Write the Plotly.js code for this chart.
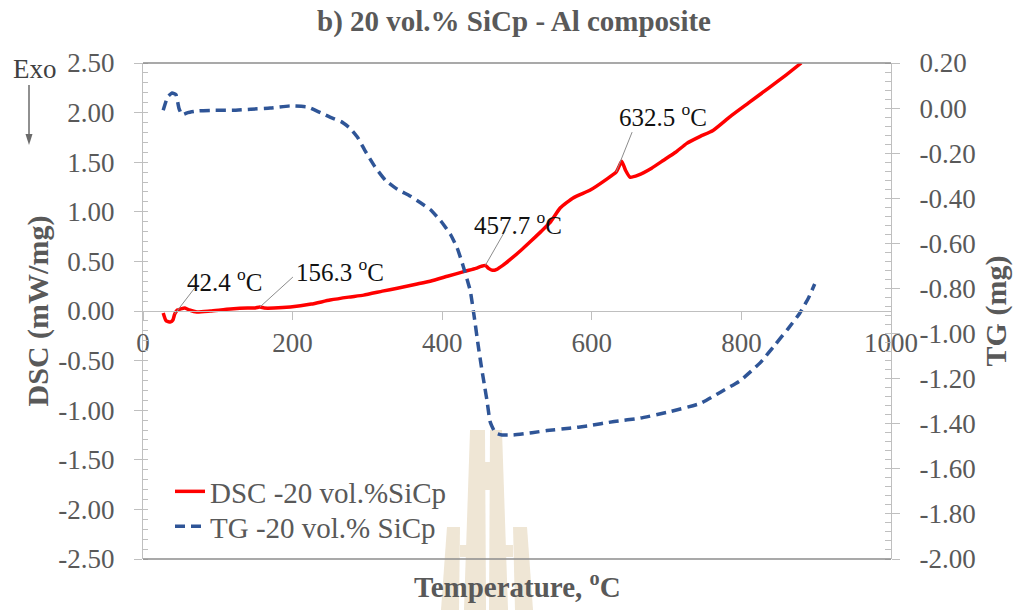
<!DOCTYPE html>
<html>
<head>
<meta charset="utf-8">
<script src="https://cdn.plot.ly/plotly-3.0.1.min.js"></script>
<style>
  html, body { margin: 0; padding: 0; background: #ffffff; }
  #chart { width: 1028px; height: 610px; }
</style>
</head>
<body>
<div id="chart"></div>
<script>
// DSC run: temperature (°C) and heat flow (mW/mg)
const dscTemp = [27, 31, 37, 40, 42.4, 46, 50, 56, 62, 72, 90, 117, 140, 150, 156.3, 162, 175, 197, 225, 250, 275, 295, 320, 340, 365, 384, 407, 430, 445, 452, 457.7, 462, 467, 473, 481, 491, 505, 518, 532, 544, 558, 575, 598, 620, 632.5, 636, 640, 645, 651, 662, 680, 696, 712, 727, 745, 762, 785, 810, 835, 860, 880];
const dscFlow = [-0.02, -0.10, -0.11, -0.09, -0.03, 0.01, 0.02, 0.03, 0.01, -0.01, 0.00, 0.02, 0.03, 0.03, 0.04, 0.03, 0.03, 0.04, 0.07, 0.11, 0.14, 0.16, 0.20, 0.23, 0.27, 0.30, 0.35, 0.40, 0.43, 0.45, 0.46, 0.43, 0.41, 0.42, 0.46, 0.52, 0.61, 0.70, 0.80, 0.89, 1.04, 1.14, 1.22, 1.33, 1.40, 1.45, 1.51, 1.42, 1.35, 1.37, 1.44, 1.52, 1.60, 1.69, 1.76, 1.82, 1.96, 2.10, 2.24, 2.38, 2.50];

// TG run: temperature (°C) and mass change (mg)
const tgTemp = [27, 33, 39, 44, 48, 52, 60, 75, 94, 120, 144, 170, 197, 220, 250, 265, 277, 287, 297, 310, 324, 340, 357, 371, 384, 398, 411, 420, 428, 437.5, 443, 448, 453, 457, 460, 464, 471, 480, 495, 520, 540, 570, 594, 630, 665, 700, 745, 772, 798, 825, 845, 862, 878, 890, 898];
const tgMass = [-0.01, 0.05, 0.067, 0.06, 0.00, -0.03, -0.02, -0.012, -0.01, -0.01, -0.005, 0.00, 0.01, 0.005, -0.04, -0.06, -0.09, -0.13, -0.19, -0.26, -0.32, -0.36, -0.39, -0.42, -0.45, -0.50, -0.56, -0.62, -0.70, -0.81, -0.93, -1.05, -1.16, -1.24, -1.30, -1.39, -1.44, -1.45, -1.45, -1.44, -1.43, -1.42, -1.41, -1.39, -1.375, -1.35, -1.31, -1.26, -1.21, -1.13, -1.05, -0.98, -0.91, -0.84, -0.78];

const seriesNames = ['DSC -20 vol.%SiCp', 'TG -20 vol.% SiCp'];

// Marked thermal events on the DSC curve (°C)
const peakTemps = [42.4, 156.3, 457.7, 632.5];

// Axis ticks
const tempTicks = [0, 200, 400, 600, 800, 1000];
const dscTickVals = [-2.5, -2.0, -1.5, -1.0, -0.5, 0, 0.5, 1.0, 1.5, 2.0, 2.5];
const dscTickText = ['-2.50', '-2.00', '-1.50', '-1.00', '-0.50', '0.00', '0.50', '1.00', '1.50', '2.00', '2.50'];
const tgTickVals = [-2.0, -1.8, -1.6, -1.4, -1.2, -1.0, -0.8, -0.6, -0.4, -0.2, 0, 0.2];
const tgTickText = ['-2.00', '-1.80', '-1.60', '-1.40', '-1.20', '-1.00', '-0.80', '-0.60', '-0.40', '-0.20', '0.00', '0.20'];

// ---- page geometry helpers ----
const W = 1028, H = 610;
const M = { l: 143, r: 137, t: 63, b: 51 };
const plotW = W - M.l - M.r, plotH = H - M.t - M.b;
const paperX = px => (px - M.l) / plotW;
const paperY = py => (H - M.b - py) / plotH;
const pathFrom = pts => 'M' + pts.map(p => paperX(p[0]).toFixed(4) + ',' + paperY(p[1]).toFixed(4)).join('L') + 'Z';

// heat flow at a given temperature
function dscAt(t) {
  for (let i = 1; i < dscTemp.length; i++) {
    if (t <= dscTemp[i]) {
      const f = (t - dscTemp[i - 1]) / (dscTemp[i] - dscTemp[i - 1]);
      return dscFlow[i - 1] + f * (dscFlow[i] - dscFlow[i - 1]);
    }
  }
  return dscFlow[dscFlow.length - 1];
}

const SERIF = '"Liberation Serif", "Times New Roman", serif';
const GREY = '#595959';
const AXIS = '#bfbfbf';

const traces = [
  {
    x: dscTemp, y: dscFlow, name: seriesNames[0], type: 'scatter', mode: 'lines',
    line: { color: '#ff0000', width: 3.5, shape: 'spline', smoothing: 0.5 },
    yaxis: 'y', legend: 'legend'
  },
  {
    x: tgTemp, y: tgMass, name: seriesNames[1], type: 'scatter', mode: 'lines',
    line: { color: '#2f5597', width: 3.5, dash: '10px,6px', shape: 'spline', smoothing: 0.4 },
    yaxis: 'y2', legend: 'legend2'
  }
];

// leader line end (px, up/right of the event point) and label offset
const leader = [[20, 26], [33, 30], [20, 35], [16, 40]];
const labelShift = [[10, 16], [34, 19], [-13, 24], [1, 39]];

const annotations = [];
const shapes = [];

// emblem in the lower middle
const emblemFill = '#efe6d5';
const emblem = [
  [[470, 430], [485, 430], [486, 610], [464, 610]],
  [[490, 430], [502, 430], [508, 610], [489, 610]],
  [[485, 462], [490, 462], [490, 490], [485, 490]],
  [[447, 527], [460, 527], [459, 610], [441, 610]],
  [[513, 527], [527, 527], [533, 610], [515, 610]],
  [[460, 545], [470, 545], [470, 557], [460, 557]],
  [[502, 545], [513, 545], [513, 557], [502, 557]]
];
emblem.forEach(pts => shapes.push({
  type: 'path', xref: 'paper', yref: 'paper', layer: 'below',
  path: pathFrom(pts), fillcolor: emblemFill, line: { width: 0 }
}));

// top and bottom frame lines
shapes.push(
  { type: 'line', xref: 'paper', yref: 'paper', x0: 0, x1: 1, y0: 1, y1: 1, line: { color: '#8c8c8c', width: 1.5 } },
  { type: 'line', xref: 'paper', yref: 'paper', x0: 0, x1: 1, y0: 0, y1: 0, line: { color: '#8c8c8c', width: 1.5 } }
);

peakTemps.forEach((t, i) => {
  const v = dscAt(t);
  shapes.push({
    type: 'line', xref: 'x', yref: 'y',
    xsizemode: 'pixel', ysizemode: 'pixel', xanchor: t, yanchor: v,
    x0: 0, y0: 0, x1: leader[i][0], y1: leader[i][1],
    line: { color: '#8c8c8c', width: 1 }
  });
  annotations.push({
    x: t, y: v, xref: 'x', yref: 'y', showarrow: false,
    text: t.toFixed(1) + ' <sup>o</sup>C',
    xanchor: 'left', yanchor: 'bottom',
    xshift: labelShift[i][0], yshift: labelShift[i][1],
    font: { family: SERIF, size: 25, color: '#111111' }
  });
});

// Exo marker with downward arrow
annotations.push({
  xref: 'paper', yref: 'paper', x: paperX(35), y: paperY(69),
  text: 'Exo', showarrow: false, xanchor: 'center', yanchor: 'middle',
  font: { family: SERIF, size: 27, color: '#404040' }
});
shapes.push(
  { type: 'line', xref: 'paper', yref: 'paper', x0: paperX(29), x1: paperX(29), y0: paperY(85), y1: paperY(136), line: { color: '#6b6b6b', width: 1.5 } },
  { type: 'path', xref: 'paper', yref: 'paper', path: pathFrom([[25.5, 134], [32.5, 134], [29, 145]]), fillcolor: '#6b6b6b', line: { width: 0 } }
);

// temperature axis title (axis itself sits on the zero line)
annotations.push({
  xref: 'paper', yref: 'paper', x: 0.5, y: paperY(585),
  text: 'Temperature, <sup>o</sup>C', showarrow: false,
  xanchor: 'center', yanchor: 'middle',
  font: { family: SERIF, size: 29, color: GREY, weight: 700 }
});

const tickFont = { family: SERIF, size: 27, color: GREY };
const legendFont = { family: SERIF, size: 29, color: GREY };

const layout = {
  width: W, height: H,
  margin: M,
  paper_bgcolor: '#ffffff', plot_bgcolor: 'rgba(0,0,0,0)',
  font: { family: SERIF, color: GREY },
  title: {
    text: 'b) 20 vol.% SiCp - Al composite',
    x: 0.5, xref: 'container', xanchor: 'center',
    y: 1 - 21 / H, yref: 'container', yanchor: 'middle',
    font: { family: SERIF, size: 29, color: GREY, weight: 700 }
  },
  showlegend: true,
  legend: {
    x: paperX(170), y: paperY(466), xanchor: 'left', yanchor: 'top',
    bgcolor: 'rgba(0,0,0,0)', borderwidth: 0, font: legendFont
  },
  legend2: {
    x: paperX(170), y: paperY(501), xanchor: 'left', yanchor: 'top',
    bgcolor: 'rgba(0,0,0,0)', borderwidth: 0, font: legendFont
  },
  xaxis: {
    range: [0, 1000], tickvals: tempTicks, anchor: 'free', position: 0.5,
    showline: true, linecolor: AXIS, linewidth: 1,
    ticks: 'outside', ticklen: 8, tickcolor: AXIS,
    ticklabelstandoff: 0,
    showgrid: false, zeroline: false, tickfont: tickFont
  },
  yaxis: {
    range: [-2.5, 2.5], tickvals: dscTickVals, ticktext: dscTickText,
    showline: true, linecolor: AXIS, linewidth: 1,
    ticks: 'outside', ticklen: 8, tickcolor: AXIS,
    minor: { dtick: 0.1, tick0: 0, ticks: 'inside', ticklen: 5, tickcolor: AXIS },
    ticklabelstandoff: 14,
    showgrid: false, zeroline: false, tickfont: tickFont,
    title: { text: 'DSC (mW/mg)', standoff: 0, font: { family: SERIF, size: 30, color: GREY, weight: 700 } }
  },
  yaxis2: {
    range: [-2.0, 0.2], tickvals: tgTickVals, ticktext: tgTickText,
    overlaying: 'y', side: 'right',
    showline: true, linecolor: AXIS, linewidth: 1,
    ticks: 'outside', ticklen: 8, tickcolor: AXIS,
    minor: { dtick: 0.04, tick0: 0, ticks: 'inside', ticklen: 6, tickcolor: AXIS },
    ticklabelstandoff: 14,
    showgrid: false, zeroline: false, tickfont: tickFont,
    title: { text: 'TG (mg)', standoff: 10, font: { family: SERIF, size: 30, color: GREY, weight: 700 } }
  },
  annotations: annotations,
  shapes: shapes
};

Plotly.newPlot('chart', traces, layout, { staticPlot: true, displayModeBar: false });
</script>
</body>
</html>
